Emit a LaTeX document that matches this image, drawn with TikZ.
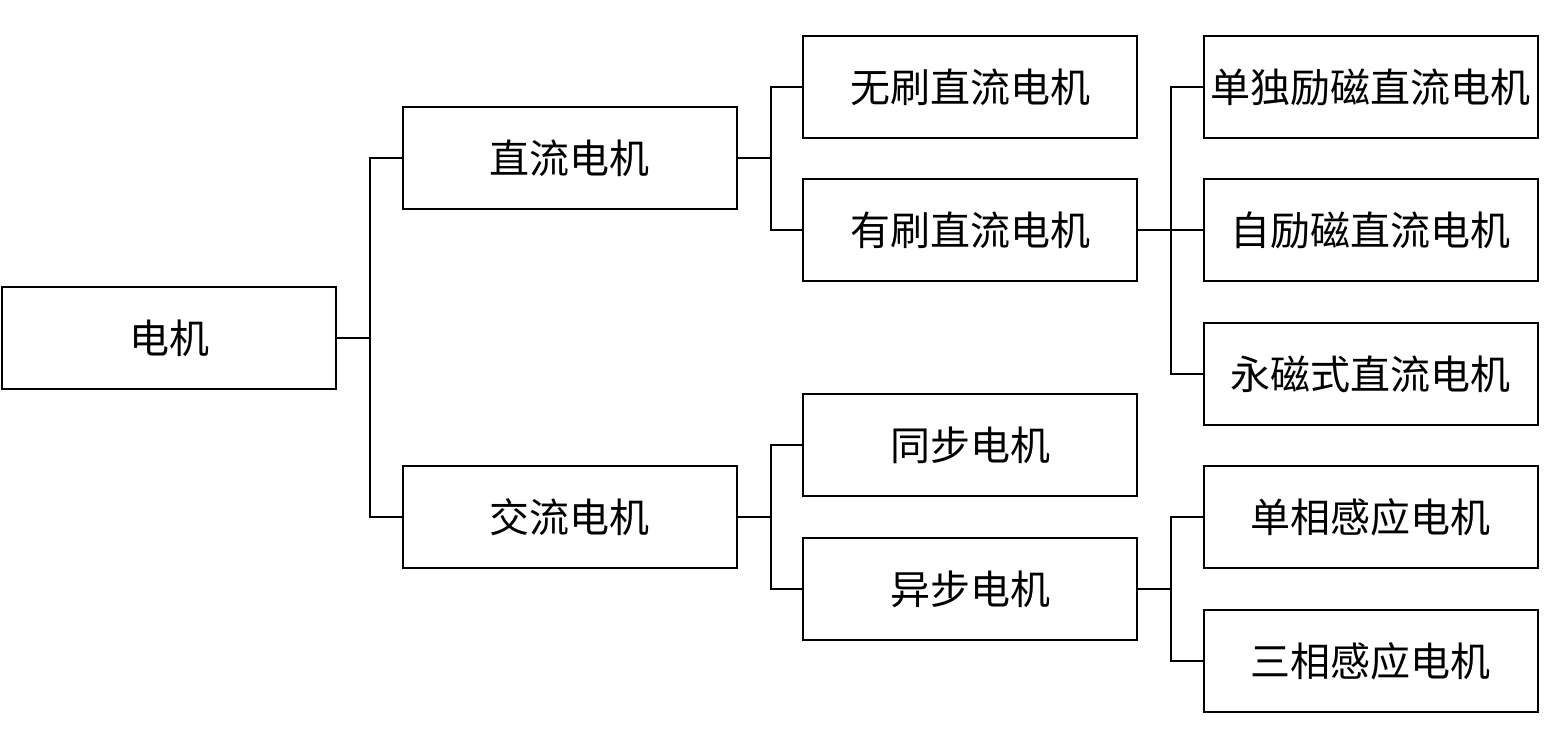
\documentclass[tikz,border=0pt]{standalone}
\usepackage{fontspec}
\newfontfamily\cjk{Noto Sans CJK SC}
\usetikzlibrary{positioning}

\begin{document}
\begin{tikzpicture}[
      x=0.5pt, y=-0.5pt,
      font=\cjk\fontsize{20}{24}\selectfont,
      box/.style={draw, line width=1pt, align=center, minimum width=167pt, minimum height=51pt, inner sep=0pt},
      link/.style={line width=1pt}
    ]
      \useasboundingbox (0,0) rectangle (1558,746);

      \node[box] (motor) at (169,338) {电机};
      \node[box] (dc) at (569.5,158) {直流电机};
      \node[box] (ac) at (569.5,517) {交流电机};
      \node[box] (brushless) at (970,87) {无刷直流电机};
      \node[box] (brushed) at (970,230) {有刷直流电机};
      \node[box] (sync) at (970,445) {同步电机};
      \node[box] (async) at (970,589) {异步电机};
      \node[box] (separate) at (1370.5,87) {单独励磁直流电机};
      \node[box] (selfexc) at (1370.5,230) {自励磁直流电机};
      \node[box] (permanent) at (1370.5,374) {永磁式直流电机};
      \node[box] (single) at (1370.5,517) {单相感应电机};
      \node[box] (three) at (1370.5,661) {三相感应电机};

      % elbow connectors
      \draw[link] (motor.east) -- ++(33,0) |- (dc.west);
      \draw[link] (motor.east) -- ++(33,0) |- (ac.west);
      \draw[link] (dc.east) -- ++(33,0) |- (brushless.west);
      \draw[link] (dc.east) -- ++(33,0) |- (brushed.west);
      \draw[link] (ac.east) -- ++(33,0) |- (sync.west);
      \draw[link] (ac.east) -- ++(33,0) |- (async.west);
      \draw[link] (brushed.east) -- ++(33,0) |- (separate.west);
      \draw[link] (brushed.east) -- ++(33,0) |- (selfexc.west);
      \draw[link] (brushed.east) -- ++(33,0) |- (permanent.west);
      \draw[link] (async.east) -- ++(33,0) |- (single.west);
      \draw[link] (async.east) -- ++(33,0) |- (three.west);
    \end{tikzpicture}
\end{document}
